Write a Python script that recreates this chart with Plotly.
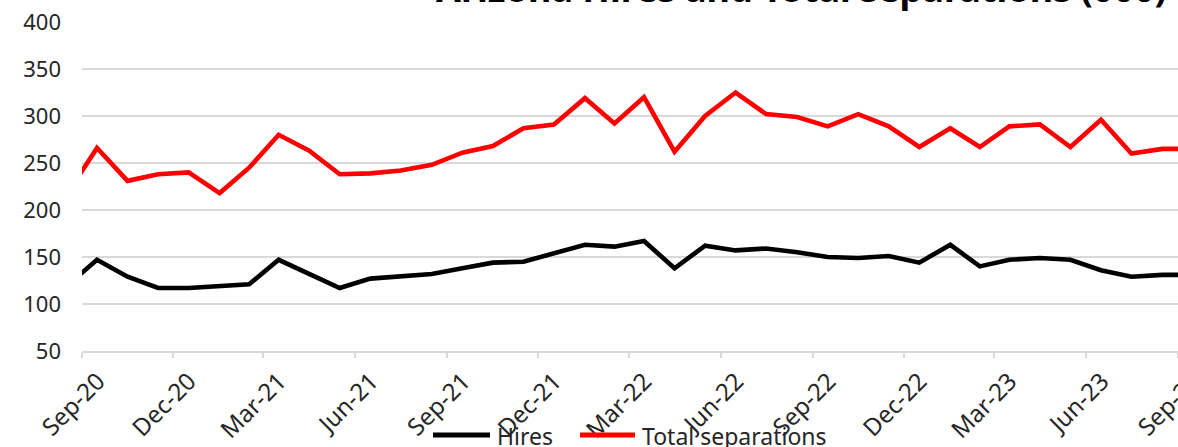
import plotly.graph_objects as go

months = ["2020-08", "2020-09", "2020-10", "2020-11", "2020-12",
          "2021-01", "2021-02", "2021-03", "2021-04", "2021-05", "2021-06",
          "2021-07", "2021-08", "2021-09", "2021-10", "2021-11", "2021-12",
          "2022-01", "2022-02", "2022-03", "2022-04", "2022-05", "2022-06",
          "2022-07", "2022-08", "2022-09", "2022-10", "2022-11", "2022-12",
          "2023-01", "2023-02", "2023-03", "2023-04", "2023-05", "2023-06",
          "2023-07", "2023-08", "2023-09"]

hires = [119, 147, 129, 117, 117,
         119, 121, 147, 132, 117, 127,
         129, 132, 138, 144, 145, 154,
         163, 161, 167, 138, 162, 157,
         159, 155, 150, 149, 151, 144,
         163, 140, 147, 149, 147, 136,
         129, 131, 131]

separations = [216, 266, 231, 238, 240,
               218, 245, 280, 263, 238, 239,
               242, 248, 261, 268, 287, 291,
               319, 292, 320, 262, 300, 325,
               302, 299, 289, 302, 289, 267,
               287, 267, 289, 291, 267, 296,
               260, 265, 265]

y_ticks = [50, 100, 150, 200, 250, 300, 350, 400]
series_names = ["Hires", "Total separations"]
series_colors = ["#000000", "#ff0000"]

FONT = "Noto Sans"
W, H = 1178, 447
ML, MR, MT, MB = 82, 0, 22, 96
PW, PH = W - ML - MR, H - MT - MB


def px_x(p):
    return (p - ML) / PW


def px_y(p):
    return (H - MB - p) / PH


fig = go.Figure()
for name, vals, col in zip(series_names, [hires, separations], series_colors):
    fig.add_trace(go.Scatter(
        x=months, y=vals, name=name, mode="lines",
        xperiod="M1", xperiodalignment="middle",
        line=dict(color=col, width=4.6),
        showlegend=False,
    ))

# legend drawn as keys + text (matches the long keys of the original)
legend_keys = [(433, 490, 495), (580, 635, 640)]
shapes = []
annotations = []
for (x0, x1, tx), name, col in zip(legend_keys, series_names, series_colors):
    shapes.append(dict(type="line", xref="paper", yref="paper",
                       x0=px_x(x0), x1=px_x(x1), y0=px_y(435), y1=px_y(435),
                       line=dict(color=col, width=5)))
    annotations.append(dict(text=name, xref="paper", yref="paper",
                            x=px_x(tx), y=px_y(436), xanchor="left",
                            yanchor="middle", showarrow=False,
                            font=dict(family=FONT, size=23, color="#262626")))

annotations.append(dict(
    text="<b>Arizona Hires and Total separations (000)</b>",
    xref="paper", yref="paper", x=px_x(801), y=px_y(-11.5),
    xanchor="center", yanchor="middle", showarrow=False,
    font=dict(family=FONT, size=36, color="#000000"),
))

fig.update_layout(
    width=W, height=H,
    margin=dict(l=ML, r=MR, t=MT, b=MB, autoexpand=False),
    paper_bgcolor="white", plot_bgcolor="white",
    font=dict(family=FONT, size=21, color="#262626"),
    showlegend=False,
    shapes=shapes,
    annotations=annotations,
)

fig.update_xaxes(
    type="date",
    range=["2020-09-01", "2023-09-01"],
    dtick="M3", tick0="2020-09-01", tickformat="%b-%y",
    tickangle=-45, ticklabelshift=16, ticklabelstandoff=0,
    ticklabeloverflow="allow",
    showgrid=False,
    showline=True, linecolor="#d9d9d9", linewidth=1.5,
    ticks="outside", ticklen=5, tickwidth=1.5, tickcolor="#d9d9d9",
    tickfont=dict(family=FONT, size=24, color="#262626"),
    automargin=False,
)
fig.update_yaxes(
    range=[50, 400], tickvals=y_ticks,
    showgrid=True, gridcolor="#d9d9d9", gridwidth=1.5,
    zeroline=False, showline=False,
    ticks="", ticklabelstandoff=20,
    tickfont=dict(family=FONT, size=22, color="#262626"),
    automargin=False,
)

fig.write_html("out.html")
